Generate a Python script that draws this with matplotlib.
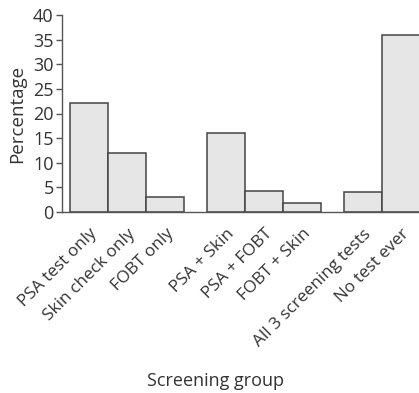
import matplotlib
matplotlib.use("Agg")
import matplotlib.pyplot as plt

# screening groups and share of respondents (%)
groups = [
    "PSA test only",
    "Skin check only",
    "FOBT only",
    "PSA + Skin",
    "PSA + FOBT",
    "FOBT + Skin",
    "All 3 screening tests",
    "No test ever",
]
percentages = [22.1, 11.9, 3.0, 16.1, 4.2, 1.8, 4.1, 36.0]
positions = [0, 1, 2, 3.6, 4.6, 5.6, 7.2, 8.2]

plt.rcParams["font.family"] = ["Open Sans", "DejaVu Sans"]

fig = plt.figure(figsize=(4.19, 3.93), dpi=100)
ax = fig.add_axes([62 / 419, 1 - 212 / 393, 1 - 62 / 419, 197 / 393])

ax.bar(positions, percentages, width=1.0, color="#e6e6e6",
       edgecolor="#444444", linewidth=1.1)

ax.set_xlim(-0.72, 8.67)
ax.set_ylim(0, 40)
ax.set_yticks(range(0, 41, 5))
ax.set_xticks(positions)
ax.set_xticklabels(groups, rotation=45, ha="right", rotation_mode="anchor",
                   fontsize=12.3, color="#333333")
ax.tick_params(axis="x", length=0, pad=10)
ax.tick_params(axis="y", length=4, width=1, color="#555555",
               labelsize=13, labelcolor="#333333", pad=2)

for side in ["top", "right"]:
    ax.spines[side].set_visible(False)
for side in ["left", "bottom"]:
    ax.spines[side].set_color("#555555")
    ax.spines[side].set_linewidth(1)

ax.set_ylabel("Percentage", fontsize=13.5, color="#333333")
ax.yaxis.set_label_coords(-0.10, 0.5)
ax.set_xlabel("Screening group", fontsize=13, color="#333333")
ax.xaxis.set_label_coords(0.43, -0.81)

fig.savefig("out.png", dpi=100)
